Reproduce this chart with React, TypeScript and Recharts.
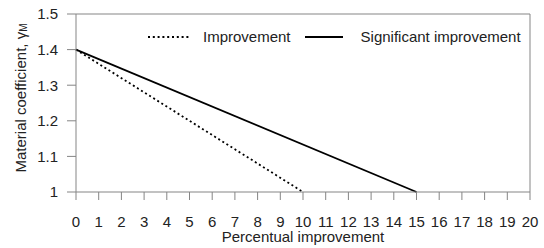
import { LineChart, Line, XAxis, YAxis, ReferenceLine } from 'recharts';

const percent = [0, 10, 15];
const improvement = [1.4, 1.0, null];
const significant = [1.4, null, 1.0];
const xTicks = [0, 1, 2, 3, 4, 5, 6, 7, 8, 9, 10, 11, 12, 13, 14, 15, 16, 17, 18, 19, 20];
const yTicks = [1, 1.1, 1.2, 1.3, 1.4, 1.5];

const data = percent.map((p, i) => ({
  p,
  improvement: improvement[i],
  significant: significant[i],
}));

const AXIS = '#858585';
const TEXT = '#222';
const FONT = '"Liberation Sans", Arial, sans-serif';
const FS = 15;

const LegendBox = () => (
  <div
    style={{
      position: 'absolute',
      left: 147,
      top: 28,
      display: 'flex',
      alignItems: 'center',
      fontFamily: FONT,
      fontSize: FS,
      lineHeight: '18px',
      color: TEXT,
      whiteSpace: 'nowrap',
    }}
  >
    <svg width={44} height={6} style={{ marginRight: 12 }}>
      <line x1={1} y1={3} x2={43} y2={3} stroke="#000" strokeWidth={1.8} strokeDasharray="2 2.8" />
    </svg>
    <span>Improvement</span>
    <svg width={40} height={6} style={{ marginLeft: 14, marginRight: 16 }}>
      <line x1={0} y1={3} x2={38} y2={3} stroke="#000" strokeWidth={1.8} />
    </svg>
    <span>Significant improvement</span>
  </div>
);

const YLabel = () => (
  <text
    x={20}
    y={98}
    transform="rotate(-90, 20, 98)"
    textAnchor="middle"
    dominantBaseline="central"
    fontFamily={FONT}
    fontSize={FS}
    fill={TEXT}
  >
    Material coefficient, γ<tspan fontSize={10} dy={3}>M</tspan>
  </text>
);

export default function App() {
  return (
    <div style={{ position: 'absolute', left: 0, top: 0, width: 544, height: 248 }}>
      <LineChart width={544} height={248} data={data} margin={{ top: 14, right: 14, bottom: 0, left: 0 }}>
        <XAxis
          dataKey="p"
          type="number"
          domain={[0, 20]}
          ticks={xTicks}
          interval={0}
          height={56}
          stroke={AXIS}
          tickSize={8}
          tickMargin={16}
          tick={{ fill: TEXT, fontSize: FS, fontFamily: FONT }}
          label={{ value: 'Percentual improvement', position: 'insideBottom', offset: 6, fill: TEXT, fontSize: FS, fontFamily: FONT }}
        />
        <YAxis
          type="number"
          domain={[1, 1.5]}
          ticks={yTicks}
          interval={0}
          width={76}
          stroke={AXIS}
          tickSize={9}
          tickMargin={9}
          tick={{ fill: TEXT, fontSize: FS, fontFamily: FONT }}
          label={<YLabel />}
        />
        <ReferenceLine y={1.5} stroke={AXIS} />
        <ReferenceLine x={20} stroke={AXIS} />
        <Line
          dataKey="improvement"
          stroke="#000"
          strokeWidth={1.8}
          strokeDasharray="2 2.8"
          dot={false}
          connectNulls
          isAnimationActive={false}
        />
        <Line
          dataKey="significant"
          stroke="#000"
          strokeWidth={1.8}
          dot={false}
          connectNulls
          isAnimationActive={false}
        />
      </LineChart>
      <LegendBox />
    </div>
  );
}
